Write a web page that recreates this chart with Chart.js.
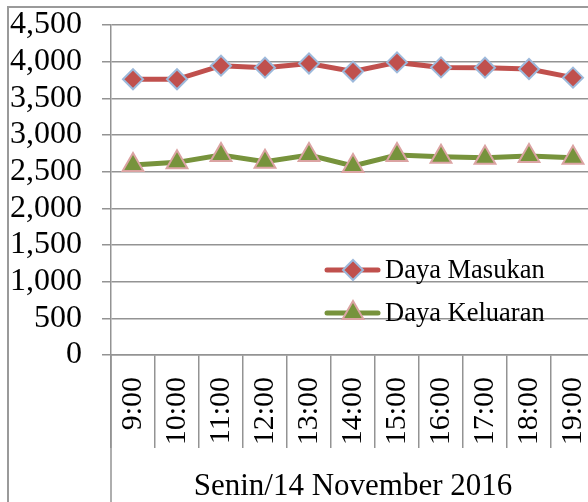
<!DOCTYPE html>
<html>
<head>
<meta charset="utf-8">
<script src="https://cdn.jsdelivr.net/npm/chart.js@4.4.1/dist/chart.umd.min.js"></script>
<style>
  body { margin: 0; overflow: hidden; background: #fff; }
  #wrap { position: absolute; left: 7px; top: 6px; border-left: 2px solid #9a9a9a; border-top: 2px solid #9a9a9a; }
  canvas { display: block; }
</style>
</head>
<body>
<div id="wrap"><canvas id="chart" width="600" height="494"></canvas></div>
<script>
const hours = ["9:00", "10:00", "11:00", "12:00", "13:00", "14:00", "15:00", "16:00", "17:00", "18:00", "19:00"];
const dayaMasukan = [3760, 3760, 3945, 3918, 3975, 3865, 3990, 3922, 3918, 3900, 3782];
const dayaKeluaran = [2590, 2627, 2727, 2636, 2727, 2577, 2727, 2704, 2690, 2713, 2690];
const groupLabel = "Senin/14 November 2016";
const yTicks = [0, 500, 1000, 1500, 2000, 2500, 3000, 3500, 4000, 4500];

const serif = "'Liberation Serif', 'Times New Roman', serif";
const gridColor = "#939393";

// legend drawn inside the plot area, line + marker like the original
const insideLegend = {
    id: "insideLegend",
    afterDraw(chart) {
        const {ctx, chartArea} = chart;
        const x0 = chartArea.left + 214;
        const rows = [chartArea.top + 245, chartArea.top + 288];
        chart.data.datasets.forEach((ds, i) => {
            const y = rows[i];
            ctx.save();
            ctx.strokeStyle = ds.borderColor;
            ctx.lineWidth = ds.borderWidth;
            ctx.lineCap = "round";
            ctx.beginPath();
            ctx.moveTo(x0 + 2, y);
            ctx.lineTo(x0 + 53, y);
            ctx.stroke();
            ctx.fillStyle = ds.pointBackgroundColor;
            ctx.strokeStyle = ds.pointBorderColor;
            ctx.lineWidth = ds.pointBorderWidth;
            Chart.helpers.drawPoint(ctx, {pointStyle: ds.pointStyle, radius: ds.pointRadius, borderWidth: ds.pointBorderWidth, rotation: 0}, x0 + 28, y);
            ctx.fillStyle = "#000";
            ctx.font = "26.5px " + serif;
            ctx.textBaseline = "middle";
            ctx.textAlign = "left";
            ctx.fillText(ds.label, x0 + 60, y + 1);
            ctx.restore();
        });
    }
};

// the left category line runs on down through the group label row
const groupLine = {
    id: "groupLine",
    afterDraw(chart) {
        const {ctx, chartArea} = chart;
        ctx.save();
        ctx.strokeStyle = gridColor;
        ctx.lineWidth = 1.5;
        ctx.beginPath();
        ctx.moveTo(chartArea.left, chartArea.bottom);
        ctx.lineTo(chartArea.left, chart.height);
        ctx.stroke();
        ctx.restore();
    }
};

const config = {
    type: "line",
    data: {
        labels: hours,
        datasets: [{
            label: "Daya Masukan",
            data: dayaMasukan,
            borderColor: "#C0504D",
            borderWidth: 5,
            pointStyle: "rectRot",
            pointRadius: 10,
            pointHoverRadius: 10,
            pointBackgroundColor: "#C0504D",
            pointBorderColor: "#9DB9DB",
            pointBorderWidth: 2,
            tension: 0
        }, {
            label: "Daya Keluaran",
            data: dayaKeluaran,
            borderColor: "#77933C",
            borderWidth: 5,
            pointStyle: "triangle",
            pointRadius: 12,
            pointHoverRadius: 12,
            pointBackgroundColor: "#77933C",
            pointBorderColor: "#DBA3A2",
            pointBorderWidth: 2,
            tension: 0
        }]
    },
    options: {
        responsive: false,
        animation: false,
        layout: { padding: { top: 17, right: 14, left: 0, bottom: 0 } },
        plugins: {
            legend: { display: false },
            tooltip: { enabled: false }
        },
        scales: {
            x: {
                offset: true,
                grid: {
                    offset: true,
                    drawOnChartArea: false,
                    drawTicks: true,
                    tickLength: 93,
                    color: gridColor,
                    lineWidth: 1.5
                },
                border: { display: true, color: gridColor, width: 1.5 },
                ticks: {
                    minRotation: 90,
                    maxRotation: 90,
                    autoSkip: false,
                    padding: -71,
                    color: "#000",
                    font: { family: serif, size: 30, lineHeight: 1 }
                },
                title: {
                    display: true,
                    text: groupLabel,
                    color: "#000",
                    padding: 0,
                    font: { family: serif, size: 31, lineHeight: 1 }
                },
                afterFit(scale) { scale.height = 147; }
            },
            y: {
                min: 0,
                max: 4500,
                afterBuildTicks(scale) { scale.ticks = yTicks.map(v => ({value: v})); },
                grid: {
                    color: gridColor,
                    lineWidth: 1.5,
                    tickLength: 9
                },
                border: { display: true, color: gridColor, width: 1.5 },
                ticks: {
                    autoSkip: false,
                    padding: 20,
                    color: "#000",
                    font: { family: serif, size: 32, lineHeight: 1 },
                    callback: v => v.toLocaleString("en-US")
                },
                afterFit(scale) {
                    scale.width = 102;
                    scale.paddingTop = 0;
                    scale.paddingBottom = 0;
                }
            }
        }
    },
    plugins: [insideLegend, groupLine]
};

new Chart(document.getElementById("chart"), config);
</script>
</body>
</html>
